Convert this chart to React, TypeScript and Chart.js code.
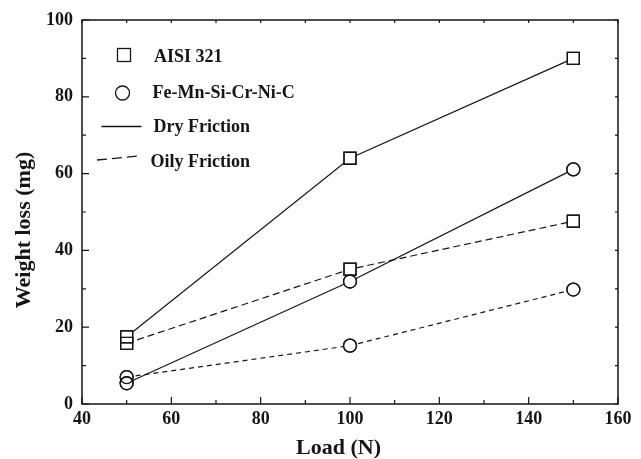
import React, { useEffect, useRef } from "react";
import { Chart, registerables } from "chart.js";

Chart.register(...registerables);

// ---- data ----
const loads = [50, 100, 150];
const aisiDry = [17.5, 64.0, 90.0];
const aisiOily = [15.8, 35.1, 47.6];
const feDry = [5.4, 31.9, 61.1];
const feOily = [7.0, 15.2, 29.8];
const xTickValues = [40, 60, 80, 100, 120, 140, 160];
const yTickValues = [0, 20, 40, 60, 80, 100];
const legendLabels = ["AISI 321", "Fe-Mn-Si-Cr-Ni-C", "Dry Friction", "Oily Friction"];
const xTitle = "Load (N)";
const yTitle = "Weight loss (mg)";

const INK = "#151515";
const FONT = "'Liberation Serif', 'Times New Roman', serif";
const SQ = 12; // square side
const CR = 6.5; // circle radius

const toXY = (ys: number[]) => loads.map((x, i) => ({ x, y: ys[i] }));

const decorPlugin = {
  id: "decor",
  afterDatasetsDraw(chart: any) {
    const ctx = chart.ctx;
    ctx.save();
    ctx.strokeStyle = INK;
    ctx.lineWidth = 1.3;
    chart.data.datasets.forEach((ds: any, i: number) => {
      const meta = chart.getDatasetMeta(i);
      meta.data.forEach((pt: any) => {
        if (ds.pointStyle === "rect") {
          ctx.strokeRect(pt.x - SQ / 2, pt.y - SQ / 2, SQ, SQ);
        } else {
          ctx.beginPath();
          ctx.arc(pt.x, pt.y, CR, 0, Math.PI * 2);
          ctx.stroke();
        }
      });
    });
    ctx.restore();
  },
  afterDraw(chart: any) {
    const ctx = chart.ctx;
    const { left, right, top, bottom } = chart.chartArea;
    const xs = chart.scales.x;
    const ys = chart.scales.y;
    ctx.save();
    ctx.strokeStyle = INK;
    ctx.lineWidth = 1.5;
    ctx.strokeRect(left, top, right - left, bottom - top);
    ctx.lineWidth = 1.2;
    ctx.beginPath();
    for (let v = xs.min; v <= xs.max; v += 10) {
      const px = xs.getPixelForValue(v);
      const major = v % 20 === 0;
      ctx.moveTo(px, bottom);
      ctx.lineTo(px, bottom - (major ? 7 : 4));
      ctx.moveTo(px, top);
      ctx.lineTo(px, top + 3);
    }
    for (let v = ys.min; v <= ys.max; v += 10) {
      const py = ys.getPixelForValue(v);
      const major = v % 20 === 0;
      ctx.moveTo(left, py);
      ctx.lineTo(left + (major ? 7 : 4), py);
      ctx.moveTo(right, py);
      ctx.lineTo(right - 3, py);
    }
    ctx.stroke();

    // axis titles
    ctx.fillStyle = INK;
    ctx.font = `bold 22px ${FONT}`;
    ctx.textAlign = "center";
    ctx.textBaseline = "alphabetic";
    ctx.fillText(xTitle, 338.5, 454);
    ctx.save();
    ctx.translate(30, 230);
    ctx.rotate(-Math.PI / 2);
    ctx.fillText(yTitle, 0, 0);
    ctx.restore();

    // legend
    ctx.font = `bold 18px ${FONT}`;
    ctx.textAlign = "left";
    ctx.lineWidth = 1.3;
    ctx.strokeRect(124 - 6.5, 55 - 6.5, 13, 13);
    ctx.fillText(legendLabels[0], 154, 61.5);
    ctx.beginPath();
    ctx.arc(122.5, 93, 7, 0, Math.PI * 2);
    ctx.stroke();
    ctx.fillText(legendLabels[1], 152.5, 98);
    ctx.beginPath();
    ctx.moveTo(101.5, 126.5);
    ctx.lineTo(141.5, 126.5);
    ctx.stroke();
    ctx.fillText(legendLabels[2], 153.5, 131.5);
    ctx.beginPath();
    ctx.setLineDash([10, 5]);
    ctx.moveTo(97, 160);
    ctx.lineTo(138, 156);
    ctx.stroke();
    ctx.setLineDash([]);
    ctx.fillText(legendLabels[3], 150.5, 166.5);
    ctx.restore();
  },
};

export default function App() {
  const ref = useRef<HTMLCanvasElement>(null);
  useEffect(() => {
    if (!ref.current) return;
    const base = {
      borderColor: INK,
      borderWidth: 1.2,
      pointBorderColor: INK,
      pointBackgroundColor: "#ffffff",
      pointBorderWidth: 1.3,
      fill: false,
      tension: 0,
    };
    const chart = new Chart(ref.current, {
      type: "line",
      data: {
        datasets: [
          { ...base, label: "AISI 321 Dry", data: toXY(aisiDry), pointStyle: "rect", pointRadius: SQ / Math.SQRT2 },
          { ...base, label: "AISI 321 Oily", data: toXY(aisiOily), pointStyle: "rect", pointRadius: SQ / Math.SQRT2, borderDash: [7, 4] },
          { ...base, label: "Fe-Mn-Si-Cr-Ni-C Dry", data: toXY(feDry), pointStyle: "circle", pointRadius: CR },
          { ...base, label: "Fe-Mn-Si-Cr-Ni-C Oily", data: toXY(feOily), pointStyle: "circle", pointRadius: CR, borderDash: [5, 4] },
        ],
      } as any,
      options: {
        responsive: false,
        animation: false,
        events: [],
        layout: { padding: { left: 0, right: 23, top: 20, bottom: 0 } },
        plugins: { legend: { display: false }, tooltip: { enabled: false } },
        scales: {
          x: {
            type: "linear",
            min: 40,
            max: 160,
            grid: { display: false, drawTicks: false },
            border: { display: false },
            afterBuildTicks: (s: any) => { s.ticks = xTickValues.map((v) => ({ value: v })); },
            afterFit: (s: any) => { s.height = 55; },
            ticks: { color: INK, padding: 5, maxRotation: 0, font: { family: FONT, size: 18, weight: "bold" } },
          },
          y: {
            type: "linear",
            min: 0,
            max: 100,
            grid: { display: false, drawTicks: false },
            border: { display: false },
            afterBuildTicks: (s: any) => { s.ticks = yTickValues.map((v) => ({ value: v })); },
            afterFit: (s: any) => { s.width = 82; },
            ticks: { color: INK, padding: 9, font: { family: FONT, size: 18, weight: "bold" } },
          },
        },
      } as any,
      plugins: [decorPlugin],
    });
    return () => chart.destroy();
  }, []);
  return (
    <div style={{ position: "absolute", left: 0, top: 0, width: 641, height: 459, background: "#fff" }}>
      <canvas ref={ref} width={641} height={459} style={{ display: "block" }} />
    </div>
  );
}
